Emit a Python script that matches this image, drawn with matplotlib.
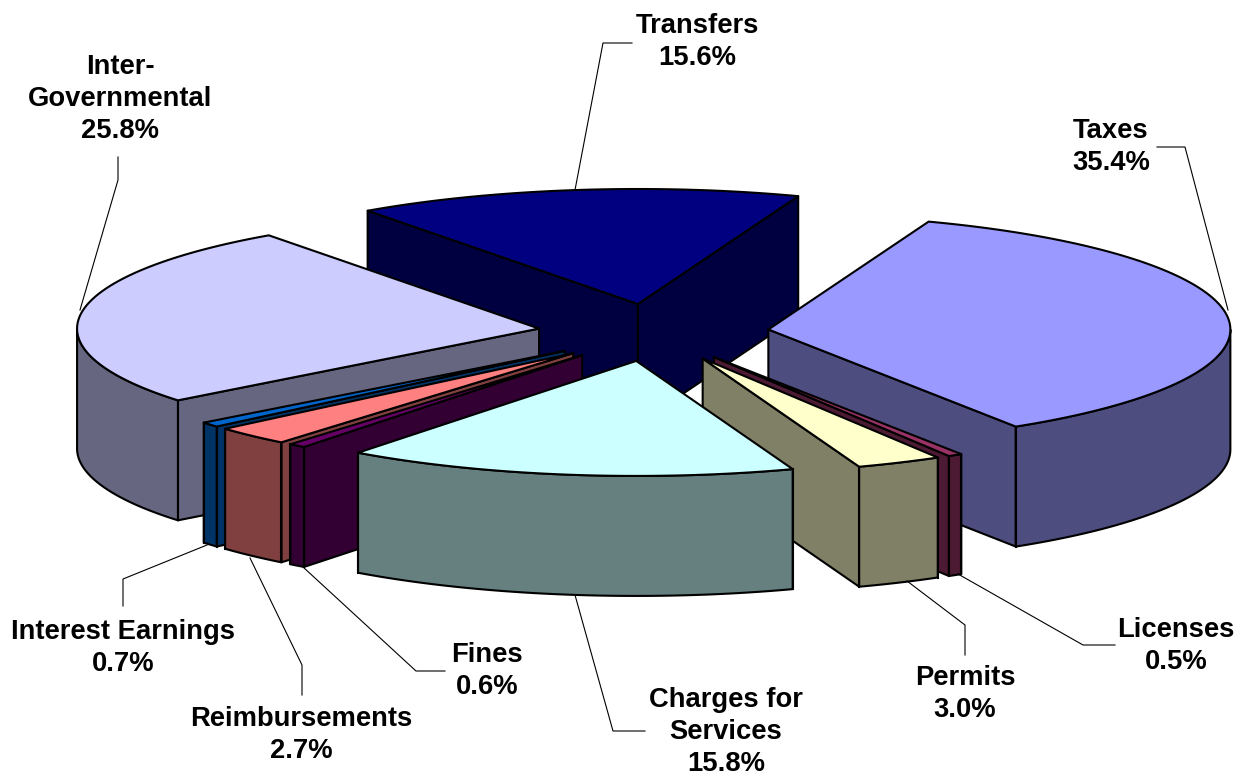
import numpy as np
import matplotlib
matplotlib.use("Agg")
import matplotlib.pyplot as plt
from matplotlib.patches import Polygon

categories = ["Taxes", "Licenses", "Permits", "Charges for\nServices", "Fines",
              "Reimbursements", "Interest Earnings", "Inter-\nGovernmental", "Transfers"]
shares = [35.4, 0.5, 3.0, 15.8, 0.6, 2.7, 0.7, 25.8, 15.6]
top_colors = ["#9999FF", "#993366", "#FFFFCC", "#CCFFFF", "#660066",
              "#FF8080", "#0066CC", "#CCCCFF", "#000080"]
side_colors = ["#4D4D80", "#4D1A33", "#808066", "#668080", "#330033",
               "#804040", "#003366", "#666680", "#000040"]

# pie geometry, in pixels
CX, CY = 653.5, 332.5
RX, RY = 462, 115
DEPTH = 120
EXPLODE = 0.25
START = 69.7
DRAW_ORDER = [8, 7, 0, 1, 6, 5, 4, 2, 3]

# label anchor and leader line for each slice
label_pos = [(1111, 147), (1176, 646), (965, 694), (726, 732), (487, 671),
             (301, 735), (123, 648), (120, 99), (697, 42)]
leaders = [
    [(1228, 310), (1185, 147), (1157, 147)],
    [(958, 574), (1083, 645), (1115, 645)],
    [(907, 581), (965, 625), (965, 655)],
    [(575, 595), (613, 731), (645, 731)],
    [(303, 567), (416, 671), (445, 671)],
    [(250, 558), (302, 665), (302, 695)],
    [(207, 545), (123, 579), (123, 606)],
    [(80, 310), (118, 180), (118, 157)],
    [(575, 190), (603, 43), (632, 43)],
]

fig = plt.figure(figsize=(12.44, 7.81), dpi=100)
ax = fig.add_axes([0, 0, 1, 1])
ax.set_xlim(0, 1244)
ax.set_ylim(781, 0)
ax.axis("off")


def rim(apex, t):
    return np.column_stack([apex[0] + RX * np.cos(t), apex[1] - RY * np.sin(t)])


def face(pts, color, z):
    ax.add_patch(Polygon(pts, closed=True, facecolor=color, edgecolor="black",
                         linewidth=1.5, joinstyle="round", zorder=z))


# the rounded shares add up to 100.1, so scale them to a full turn
ends = START - np.cumsum(shares) / np.sum(shares) * 360
starts = np.r_[START, ends[:-1]]

for z, i in enumerate(DRAW_ORDER):
    t0, t1 = np.radians(starts[i]), np.radians(ends[i])
    mid = (t0 + t1) / 2
    apex = (CX + EXPLODE * RX * np.cos(mid), CY - EXPLODE * RY * np.sin(mid))
    base = np.array([0, DEPTH])
    top_arc = rim(apex, np.linspace(t0, t1, 120))

    # radial walls that face the viewer
    for t, visible in ((t0, np.cos(t0) < 0), (t1, np.cos(t1) > 0)):
        if visible:
            edge = np.array([apex, rim(apex, np.array([t]))[0]])
            face(np.vstack([edge, edge[::-1] + base]), side_colors[i], z * 10)

    # outer wall, only where the rim is on the near side
    front = np.linspace(t0, t1, 240)
    front = front[np.sin(front) < 0]
    if len(front) > 1:
        arc = rim(apex, front)
        face(np.vstack([arc, arc[::-1] + base]), side_colors[i], z * 10 + 1)
        # seam where a radial wall meets the rim
        for t in (t0, t1):
            if np.sin(t) < 0:
                p = rim(apex, np.array([t]))[0]
                ax.plot([p[0], p[0]], [p[1], p[1] + DEPTH], color="black",
                        lw=1.5, zorder=z * 10 + 2)

    face(np.vstack([[apex], top_arc]), top_colors[i], z * 10 + 3)

for i, name in enumerate(categories):
    xs, ys = zip(*leaders[i])
    ax.plot(xs, ys, color="black", lw=0.8, zorder=200)
    ax.text(*label_pos[i], f"{name}\n{shares[i]:.1f}%", ha="center", va="center",
            family="Liberation Sans", fontweight="bold", fontsize=19.7,
            linespacing=1.3, color="black", zorder=201)

fig.savefig("out.png", dpi=100, facecolor="white")
